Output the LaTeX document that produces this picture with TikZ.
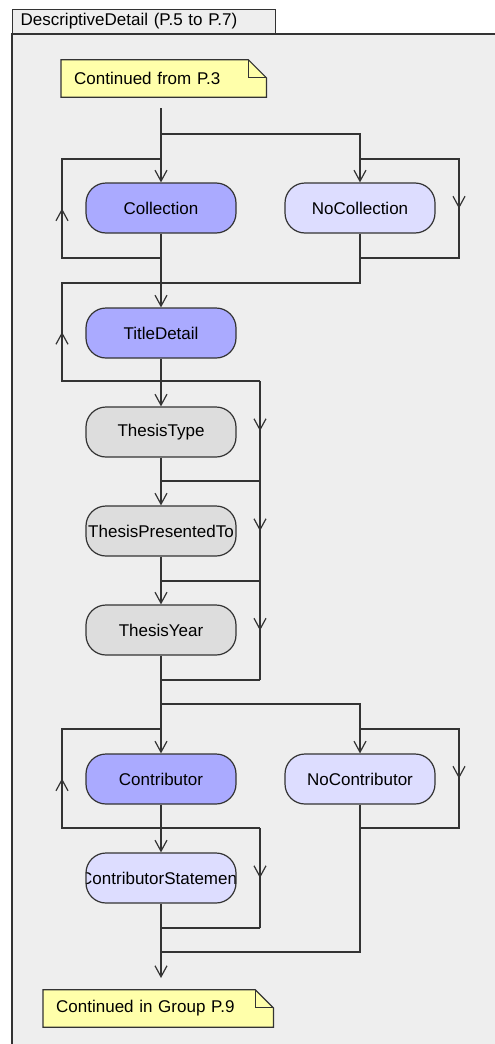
\documentclass[tikz,border=0pt]{standalone}
\usepackage{fontspec}
\setmainfont{Liberation Sans}
\usepackage{tikz}
\usetikzlibrary{arrows.meta}
\usetikzlibrary{backgrounds}
\usetikzlibrary{decorations.markings}
\definecolor{panel}{HTML}{EEEEEE}
\definecolor{strong}{HTML}{AAAAFF}
\definecolor{weak}{HTML}{DDDDFF}
\definecolor{plain}{HTML}{DDDDDD}
\definecolor{memo}{HTML}{FFFFAA}
\definecolor{ink}{HTML}{333333}
\tikzset{act/.style={draw=ink, line width=1.2pt, rounded corners=20pt,
   minimum width=150pt, minimum height=50pt, inner sep=0pt},
 clipped/.style={path picture={\node at (path picture bounding box.center) {#1};}},
 memo/.style={anchor=west, inner xsep=13pt, inner ysep=0pt, minimum height=37pt, align=left},
 tab/.style={draw=ink, fill=panel, line width=1.2pt, anchor=south west,
   minimum height=24pt, inner xsep=8pt, inner ysep=0pt},
 line/.style={draw=ink, line width=1.2pt},
 flow/.style={line, -{Straight Barb[length=11pt,width=12pt]}},
 midarrow/.style={postaction={decorate}, decoration={markings,
   mark=at position 0.5 with {\arrow{Straight Barb[length=11pt,width=12pt]}}}},
 }

\begin{document}
\begin{tikzpicture}[x=1pt, y=-1pt, font=\fontsize{17}{20}\selectfont]
        \useasboundingbox (0, 0) rectangle (495, 1044);
        \node [tab, text width=247pt] (tab) at (12, 34) {DescriptiveDetail (P.5 to P.7)};
        \node [memo, text width=179pt] (from) at (61, 78.5) {Continued from P.3};
        \node [memo, text width=204pt] (next) at (43, 1008.5) {Continued in Group P.9};
        \begin{scope}[on background layer]
            \fill [panel] (12, 34) rectangle (495, 1044);
            \draw [line] (12, 1044) -- (12, 34) -- (495, 34);
            \foreach \n in {from, next} {
                \filldraw [line, fill=memo] (\n.south west) -- (\n.north west)
                    -- ([xshift=-18pt]\n.north east) -- ([yshift=-18pt]\n.north east)
                    -- (\n.south east) -- cycle;
                \draw [line] ([xshift=-18pt]\n.north east) |- ([yshift=-18pt]\n.north east);
            }
        \end{scope}
        % activities
        \node [act, fill=strong] (coll) at (161, 208) {Collection};
        \node [act, fill=weak] (nocoll) at (360, 208) {NoCollection};
        \node [act, fill=strong] (detail) at (161, 333) {TitleDetail};
        \node [act, fill=plain] (ttype) at (161, 432) {ThesisType};
        \node [act, fill=plain, clipped=ThesisPresentedTo] (tpres) at (161, 531) {};
        \node [act, fill=plain] (tyear) at (161, 630) {ThesisYear};
        \node [act, fill=strong] (contr) at (161, 779) {Contributor};
        \node [act, fill=weak] (nocontr) at (360, 779) {NoContributor};
        \node [act, fill=weak, clipped=ContributorStatement] (cstat) at (161, 878) {};
        % junctions
        \coordinate (top) at (161, 108);
        \coordinate (fork1) at (161, 134);
        \coordinate (rep1a) at (161, 159);
        \coordinate (rep1b) at (161, 258);
        \coordinate (skip1a) at (360, 159);
        \coordinate (skip1b) at (360, 258);
        \coordinate (join1) at (161, 283);
        \coordinate (loop2) at (161, 381);
        \coordinate (join2) at (161, 481);
        \coordinate (join3) at (161, 581);
        \coordinate (join4) at (161, 680);
        \coordinate (side1) at (260, 381);
        \coordinate (side2) at (260, 481);
        \coordinate (side3) at (260, 581);
        \coordinate (side4) at (260, 680);
        \coordinate (fork2) at (161, 704);
        \coordinate (rep2a) at (161, 729);
        \coordinate (skip2a) at (360, 729);
        \coordinate (skip2b) at (360, 828);
        \coordinate (loop4) at (161, 828);
        \coordinate (side5) at (260, 828);
        \coordinate (side6) at (260, 928);
        \coordinate (join5) at (161, 928);
        \coordinate (join6) at (161, 952);
        \coordinate (end) at (161, 978);
        % flows
        \draw [flow] (top) -- (coll);
        \draw [flow] (fork1) -| (nocoll);
        \draw [line, midarrow] (rep1b) -- ++(-99, 0) |- (rep1a);
        \draw [line, midarrow] (skip1a) -- ++(99, 0) |- (skip1b);
        \draw [flow] (coll) -- (detail);
        \draw [line] (nocoll) |- (join1);
        \draw [line, midarrow] (loop2) -- ++(-99, 0) |- (join1);
        \draw [flow] (detail) -- (ttype);
        \draw [line] (loop2) -- (side1);
        \draw [line, midarrow] (side1) -- (side2);
        \draw [line, midarrow] (side2) -- (side3);
        \draw [line, midarrow] (side3) -- (side4);
        \draw [line] (side2) -- (join2);
        \draw [line] (side3) -- (join3);
        \draw [line] (side4) -- (join4);
        \draw [flow] (ttype) -- (tpres);
        \draw [flow] (tpres) -- (tyear);
        \draw [flow] (tyear) -- (contr);
        \draw [flow] (fork2) -| (nocontr);
        \draw [line, midarrow] (loop4) -- ++(-99, 0) |- (rep2a);
        \draw [line, midarrow] (skip2a) -- ++(99, 0) |- (skip2b);
        \draw [flow] (contr) -- (cstat);
        \draw [line] (loop4) -- (side5);
        \draw [line, midarrow] (side5) -- (side6);
        \draw [line] (side6) -- (join5);
        \draw [line] (nocontr) |- (join6);
        \draw [flow] (cstat) -- (end);
    \end{tikzpicture}
\end{document}
